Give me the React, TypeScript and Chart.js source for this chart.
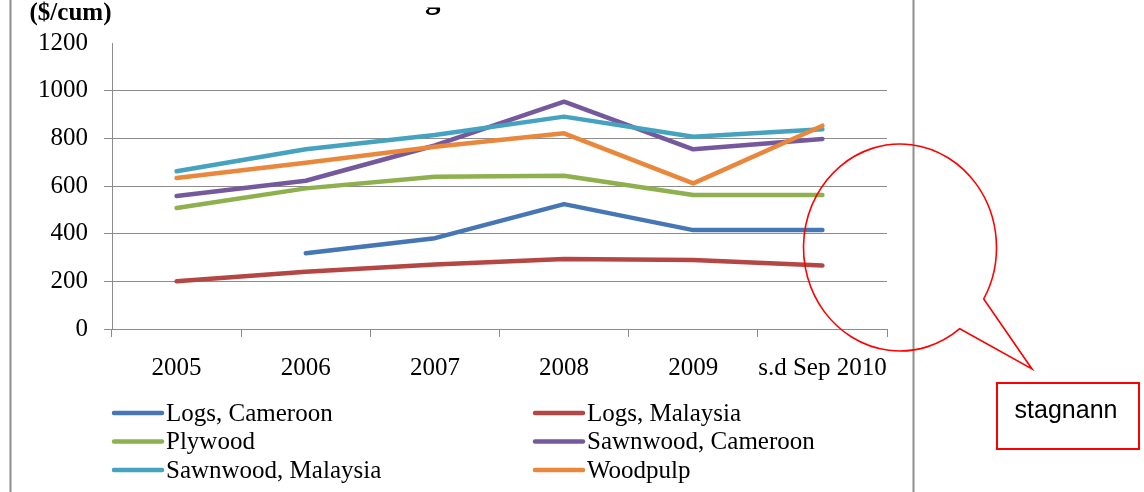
import React, { useEffect, useRef } from "react";
import { Chart, registerables } from "chart.js";

Chart.register(...registerables);

// Categories and series ($/cum)
const years = ["2005", "2006", "2007", "2008", "2009", "s.d Sep 2010"];
const logsCameroon = [null, 318, 381, 524, 415, 415];
const logsMalaysia = [200, 240, 271, 294, 290, 266];
const plywood = [508, 590, 639, 643, 562, 562];
const sawnwoodCameroon = [558, 622, 770, 954, 754, 797];
const sawnwoodMalaysia = [662, 754, 814, 891, 807, 838];
const woodpulp = [634, 698, 765, 821, 611, 853];

const seriesNames = [
  "Logs, Cameroon",
  "Logs, Malaysia",
  "Plywood",
  "Sawnwood, Cameroon",
  "Sawnwood, Malaysia",
  "Woodpulp",
];
const seriesColors = ["#4677B4", "#B44744", "#8FB04E", "#76599C", "#46A3BF", "#E9883C"];
const seriesValues = [logsCameroon, logsMalaysia, plywood, sawnwoodCameroon, sawnwoodMalaysia, woodpulp];

const yMin = 0;
const yMax = 1200;
const yStep = 200;

const unitLabel = "($/cum)";
const noteText = "stagnann";

const GRID = "#8c8c8c";
const SERIF = '"Liberation Serif", "Times New Roman", serif';

// Extra drawing: frame lines, unit label, clipped title glyph, legend, callout and note box
const decorations = {
  id: "decorations",
  afterDraw(chart: any) {
    const ctx: CanvasRenderingContext2D = chart.ctx;
    ctx.save();

    // side frame lines
    ctx.strokeStyle = "#8e8e8e";
    ctx.lineWidth = 2;
    ctx.beginPath();
    ctx.moveTo(10.5, 0);
    ctx.lineTo(10.5, 492);
    ctx.moveTo(913.5, 0);
    ctx.lineTo(913.5, 492);
    ctx.stroke();

    // unit label
    ctx.fillStyle = "#000";
    ctx.font = `bold 25px ${SERIF}`;
    ctx.textAlign = "center";
    ctx.textBaseline = "alphabetic";
    ctx.fillText(unitLabel, 70.5, 19.5);

    // title, cut at the top edge
    ctx.save();
    ctx.beginPath();
    ctx.rect(380, 7.5, 120, 20);
    ctx.clip();
    ctx.font = `bold 31px ${SERIF}`;
    ctx.textAlign = "left";
    ctx.fillText("g", 425, 7.5);
    ctx.restore();

    // legend, two columns
    const colX = [112, 533];
    const rowY = [413, 441.5, 470];
    ctx.font = `25px ${SERIF}`;
    ctx.textAlign = "left";
    ctx.textBaseline = "middle";
    seriesNames.forEach((name, i) => {
      const x = colX[i % 2];
      const y = rowY[Math.floor(i / 2)];
      ctx.strokeStyle = seriesColors[i];
      ctx.lineWidth = 4.5;
      ctx.lineCap = "round";
      ctx.beginPath();
      ctx.moveTo(x + 2, y);
      ctx.lineTo(x + 50, y);
      ctx.stroke();
      ctx.fillStyle = "#000";
      ctx.fillText(name, x + 54, y + 1);
    });

    // speech-bubble callout
    const cx = 900, cy = 247.5, rx = 96.5, ry = 103.5;
    const a1 = (51.7 * Math.PI) / 180;
    const a2 = (29.8 * Math.PI) / 180 + Math.PI * 2;
    ctx.strokeStyle = "#ff0000";
    ctx.lineWidth = 1.6;
    ctx.lineCap = "butt";
    ctx.lineJoin = "miter";
    ctx.beginPath();
    ctx.moveTo(cx + rx * Math.cos(a2), cy + ry * Math.sin(a2));
    ctx.lineTo(1032, 369);
    ctx.lineTo(cx + rx * Math.cos(a1), cy + ry * Math.sin(a1));
    ctx.ellipse(cx, cy, rx, ry, 0, a1, a2, false);
    ctx.closePath();
    ctx.stroke();

    // note box
    ctx.lineWidth = 2;
    ctx.strokeRect(997, 383, 142, 66);
    ctx.fillStyle = "#000";
    ctx.font = '25px "Liberation Sans", Arial, sans-serif';
    ctx.textAlign = "center";
    ctx.textBaseline = "alphabetic";
    ctx.fillText(noteText, 1066, 418);

    ctx.restore();
  },
};

export default function App() {
  const canvasRef = useRef<HTMLCanvasElement | null>(null);

  useEffect(() => {
    if (!canvasRef.current) return;
    const chart = new Chart(canvasRef.current, {
      type: "line",
      data: {
        labels: years,
        datasets: seriesValues.map((values, i) => ({
          label: seriesNames[i],
          data: values,
          borderColor: seriesColors[i],
          backgroundColor: seriesColors[i],
          borderWidth: 4.5,
          pointRadius: 0,
          pointHoverRadius: 0,
          tension: 0,
          fill: false,
          borderCapStyle: "round",
          borderJoinStyle: "round",
          order: seriesValues.length - 1 - i,
        })),
      },
      options: {
        responsive: false,
        animation: false,
        events: [],
        layout: { padding: { left: 0, right: 257, top: 43, bottom: 103 } },
        plugins: {
          legend: { display: false },
          tooltip: { enabled: false },
          title: { display: false },
        },
        scales: {
          x: {
            offset: true,
            grid: {
              offset: true,
              drawOnChartArea: false,
              drawTicks: true,
              tickLength: 8,
              color: GRID,
              lineWidth: 1,
            },
            border: { display: true, color: GRID, width: 1 },
            ticks: {
              color: "#000",
              font: { family: SERIF, size: 25 },
              padding: 16,
              maxRotation: 0,
              autoSkip: false,
            },
            afterFit: (scale: any) => {
              scale.height = 60;
            },
          },
          y: {
            min: yMin,
            max: yMax,
            grid: {
              color: (c: any) => (c.tick && c.tick.value === yMax ? "rgba(0,0,0,0)" : GRID),
              lineWidth: 1,
              tickLength: 8,
            },
            border: { display: true, color: GRID, width: 1 },
            ticks: {
              stepSize: yStep,
              color: "#000",
              font: { family: SERIF, size: 25 },
              padding: 16,
              callback: (v: any) => String(v),
            },
            afterFit: (scale: any) => {
              scale.width = 112;
            },
          },
        },
      },
      plugins: [decorations],
    } as any);
    return () => chart.destroy();
  }, []);

  return (
    <div style={{ position: "fixed", left: 0, top: 0, width: 1144, height: 492, background: "#fff" }}>
      <canvas ref={canvasRef} width={1144} height={492} style={{ display: "block" }} />
    </div>
  );
}
